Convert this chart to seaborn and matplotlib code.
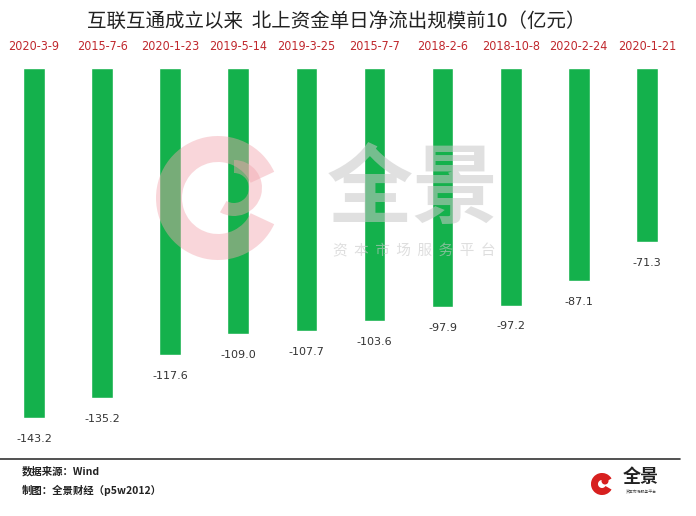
import matplotlib
matplotlib.use("Agg")
import matplotlib.pyplot as plt
import seaborn as sns
import pandas as pd
from matplotlib.patches import Wedge, Circle

dates = ["2020-3-9", "2015-7-6", "2020-1-23", "2019-5-14", "2019-3-25",
         "2015-7-7", "2018-2-6", "2018-10-8", "2020-2-24", "2020-1-21"]
values = [-143.2, -135.2, -117.6, -109.0, -107.7, -103.6, -97.9, -97.2, -87.1, -71.3]

title = "互联互通成立以来  北上资金单日净流出规模前10（亿元）"
source1 = "数据来源：Wind"
source2 = "制图：全景财经（p5w2012）"

sns.set_theme(style="white")
plt.rcParams['font.family'] = ['Noto Sans CJK SC', 'DejaVu Sans']

W, H = 696, 516
fig = plt.figure(figsize=(W / 100, H / 100), dpi=100)
fig.patch.set_facecolor("white")

top_px, bot_px = 68, 450
ax = fig.add_axes([0, (H - bot_px) / H, 1, (bot_px - top_px) / H])
df = pd.DataFrame({"date": dates, "value": values})
green = "#14B14C"
sns.barplot(data=df, x="date", y="value", color=green, width=0.32,
            saturation=1, ax=ax, errorbar=None)
scale = 2.444
ax.set_ylim(-(bot_px - top_px) / scale, 0)
step = 68.1
ax.set_xlim((0 - 34) / step, (W - 34) / step)
ax.axis("off")

for i, (d, v) in enumerate(zip(dates, values)):
    ax.annotate(f"{v:.1f}", (i, v), xytext=(0, -15), textcoords="offset points",
                ha="center", va="center", fontsize=8, color="#333333",
                family=["DejaVu Sans"])

ov = fig.add_axes([0, 0, 1, 1], facecolor="none")
ov.set_xlim(0, W)
ov.set_ylim(H, 0)
ov.axis("off")

ov.text(W / 2 - 12, 21, title, ha="center", va="center", fontsize=14, color="#222222")
for i, d in enumerate(dates):
    ov.text(34 + step * i, 47, d, ha="center", va="center", fontsize=9,
            color="#C0282D", family=["Liberation Sans Narrow", "DejaVu Sans"],
            fontstretch="condensed")

# watermark
ov.add_patch(Wedge((218, 198), 62, 25, 335, width=26, color="#F2A6AE", alpha=0.45, lw=0))
ov.add_patch(Wedge((234, 188), 28, -90, 120, width=13, color="#F2A6AE", alpha=0.45, lw=0))
ov.text(413, 191, "全景", ha="center", va="center", fontsize=62, fontweight="bold",
        color="#C8C8C8", alpha=0.55)
ov.text(414, 251, "资  本  市  场  服  务  平  台", ha="center", va="center", fontsize=10.5,
        color="#C8C8C8", alpha=0.6)

ov.plot([0, 680], [459, 459], color="#333333", lw=1.2)
ov.text(22, 471, source1, ha="left", va="center", fontsize=7.5, fontweight="bold", color="#222222")
ov.text(22, 490, source2, ha="left", va="center", fontsize=7.5, fontweight="bold", color="#222222")

# logo
ov.add_patch(Wedge((602, 484), 11, 30, 330, width=7, color="#D7201F", lw=0))
ov.add_patch(Circle((605, 481), 3.5, color="#D7201F", lw=0))
ov.text(641, 477, "全景", ha="center", va="center", fontsize=13, fontweight="bold", color="#222222")
ov.text(641, 492, "资本市场服务平台", ha="center", va="center", fontsize=2.8, color="#444444")

fig.savefig("out.png", dpi=100, facecolor="white")
